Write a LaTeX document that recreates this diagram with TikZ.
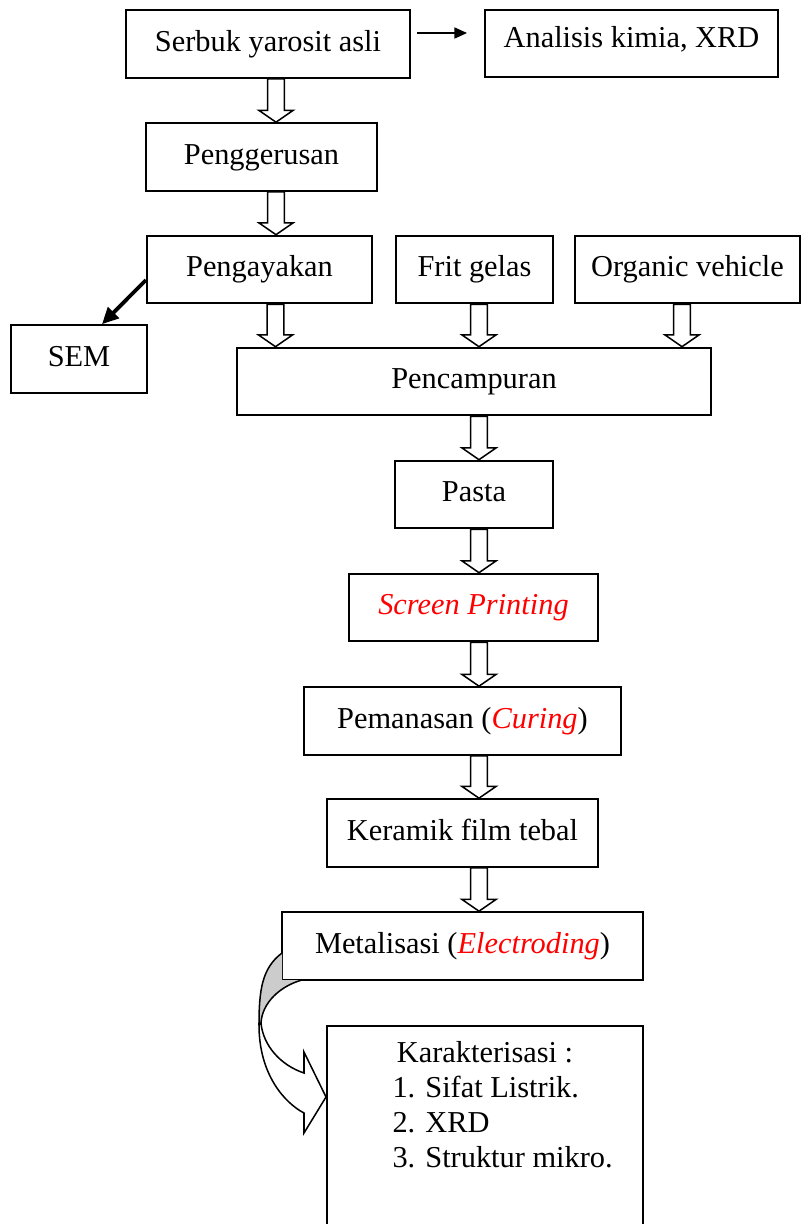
\documentclass[tikz,border=0pt]{standalone}
\usepackage{fontspec}
\setmainfont{Liberation Serif}
\usepackage{xcolor}
\usetikzlibrary{positioning,calc,arrows.meta}

\tikzset{
	box/.style={draw, line width=0.8pt, inner sep=0pt, minimum height=26.7pt, text height=8.4pt, text depth=2.6pt},
	hollow/.style={draw, fill=white, line width=0.6pt, line join=miter},
	pointer/.style={-{Triangle[length=5pt,width=4.4pt]}, line width=0.5pt},
	fatpointer/.style={-{Triangle[length=6.5pt,width=6pt]}, line width=1.5pt},
	bandline/.style={draw, line width=0.6pt}
}
\newcommand{\merah}[1]{\textcolor{red}{\textit{#1}}}
% hollow block arrow below node #1 (shifted by #2) down to node #3
\newcommand{\hollowdown}[3]{%
	\draw[hollow] let \p1=($(#1.south)+(#2,0)$), \p2=(#3.north) in
		(\x1-3.3pt,\y1) -- (\x1-3.3pt,\y2+4.7pt) -- (\x1-6.8pt,\y2+4.7pt) -- (\x1,\y2)
		-- (\x1+6.8pt,\y2+4.7pt) -- (\x1+3.3pt,\y2+4.7pt) -- (\x1+3.3pt,\y1) -- cycle;}

\begin{document}
\begin{tikzpicture}[x=0.395pt, y=-0.395pt, font=\fontsize{12}{13.8}\selectfont]
	\useasboundingbox (0,0) rectangle (801,1224);
	\clip (0,0) rectangle (801,1224);

	\node[box, minimum width=112.2pt] (serbuk) at (268,44) {Serbuk yarosit asli};
	\node[box, minimum width=115.7pt, text depth=5pt] (analisis) at (631.5,43.5) {Analisis kimia, XRD};
	\node[box, minimum width=91.2pt] (gerus) at (261.5,157) {Penggerusan};
	\node[box, minimum width=88.9pt] (ayak) at (259.5,269.5) {Pengayakan};
	\node[box, minimum width=62pt] (frit) at (474.5,269.5) {Frit gelas};
	\node[box, minimum width=88.9pt] (organic) at (687.5,269.5) {Organic vehicle};
	\node[box, minimum width=53.7pt] (sem) at (79,359) {SEM};
	\node[box, minimum width=187.2pt] (campur) at (474,381.5) {Pencampuran};
	\node[box, minimum width=62.4pt] (pasta) at (474,494.5) {Pasta};
	\node[box, minimum width=98.4pt] (screen) at (473.5,607.5) {\merah{Screen Printing}};
	\node[box, minimum width=125.2pt] (panas) at (462.5,721) {Pemanasan (\merah{Curing})};
	\node[box, minimum width=107pt] (keramik) at (462.5,833) {Keramik film tebal};
	\node[box, minimum width=142.6pt] (metal) at (462.5,946) {Metalisasi (\merah{Electroding})};
	\node[box, minimum width=124.8pt, minimum height=98.8pt, anchor=north] (karakter) at (485,1025) {};

	\node[anchor=base, inner sep=0pt] (karjudul) at (485,1062) {Karakterisasi :};
	\node[anchor=base west, inner sep=0pt] (kar1) at (392,1097) {1. Sifat Listrik.};
	\node[anchor=base west, inner sep=0pt] (kar2) at (392,1132) {2. XRD};
	\node[anchor=base west, inner sep=0pt] (kar3) at (392,1167) {3. Struktur mikro.};

	\draw[pointer] ($(serbuk.east)+(6,-11)$) -- ($(analisis.west)+(-17,-10.5)$);
	\draw[fatpointer] ($(ayak.west)+(0,10.5)$) -- ($(sem.north)+(23,0)$);

	\hollowdown{serbuk}{8}{gerus}
	\hollowdown{gerus}{14.5}{ayak}
	\hollowdown{ayak}{16}{campur}
	\hollowdown{frit}{4.5}{campur}
	\hollowdown{organic}{-5.5}{campur}
	\hollowdown{campur}{5}{pasta}
	\hollowdown{pasta}{5}{screen}
	\hollowdown{screen}{5.5}{panas}
	\hollowdown{panas}{16.5}{keramik}
	\hollowdown{keramik}{16.5}{metal}

	% curved arrow from metalisasi to karakterisasi
	\fill[gray!40] (282,953) .. controls (262,968) and (259,990) .. (259,1025)
		-- (261,1023) .. controls (262,1003) and (280,986) .. (302,980) -- (282,980) -- cycle;
	\draw[bandline] (282,953) .. controls (262,968) and (259,990) .. (259,1025);
	\draw[bandline] (302,980) .. controls (280,986) and (262,1003) .. (261,1023);
	\draw[bandline, fill=white] (259,1025) .. controls (259,1075) and (285,1103) .. (304,1113)
		-- (304,1133) -- (karakter.west |- 0,1097) -- (304,1052) -- (304,1073)
		.. controls (280,1065) and (263,1045) .. (261,1023) -- cycle;
\end{tikzpicture}
\end{document}
